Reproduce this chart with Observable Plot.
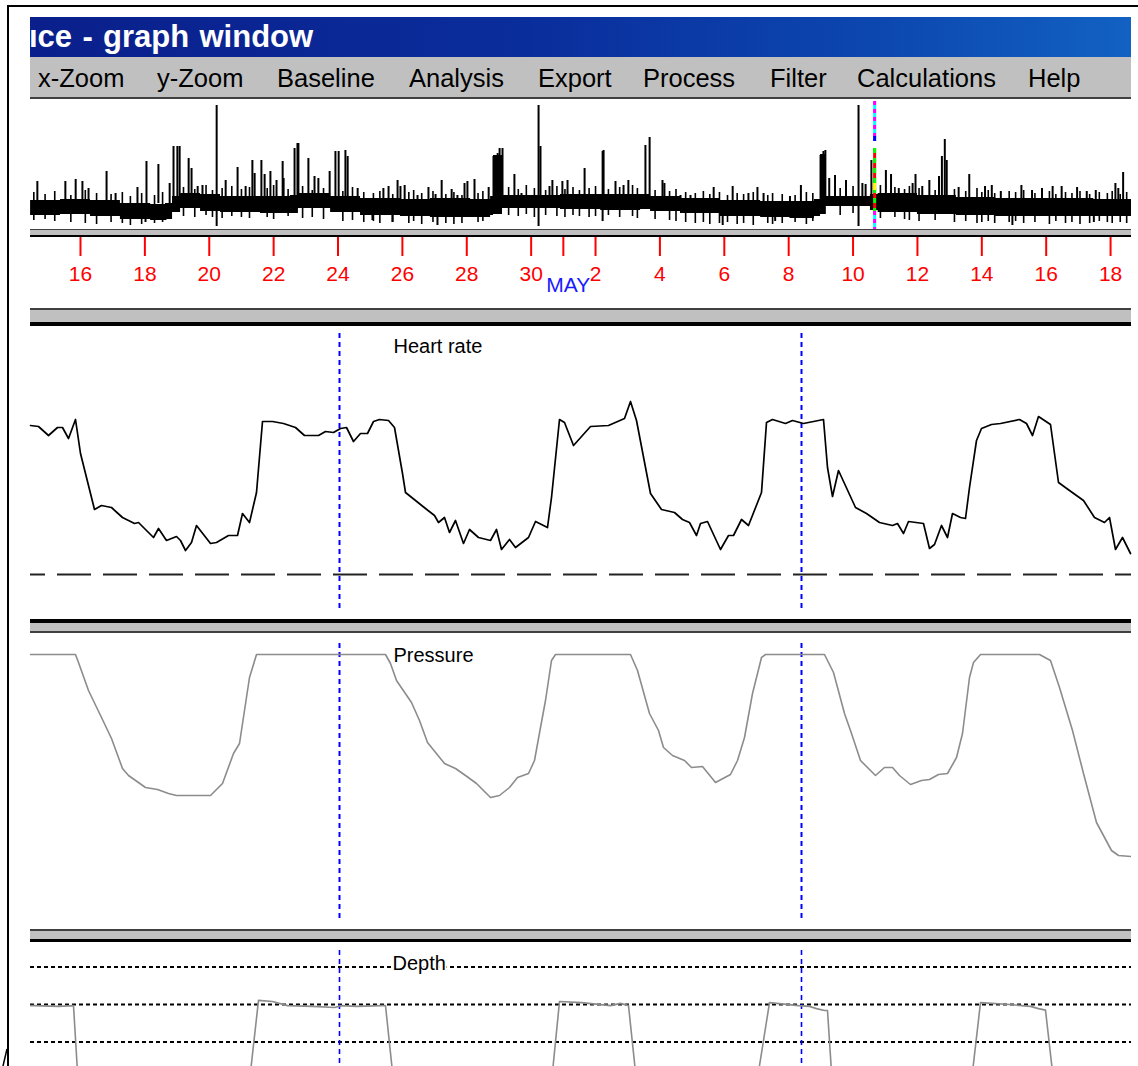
<!DOCTYPE html>
<html>
<head>
<meta charset="utf-8">
<script src="https://cdn.jsdelivr.net/npm/d3@7"></script>
<script src="https://cdn.jsdelivr.net/npm/@observablehq/plot@0.6"></script>
<style>
  html, body { margin:0; padding:0; background:#fff; }
  #page { position:relative; width:1138px; height:1066px; overflow:hidden; background:#fff; font-family:"Liberation Sans", Arial, sans-serif; }
  .a { position:absolute; }
  #titlebar { left:30px; top:17px; width:1101px; height:40px; overflow:hidden;
    background:linear-gradient(90deg,#0a1f8b 0%,#0a2d9c 45%,#0c48b0 78%,#1261c3 100%); }
  #titletext { position:absolute; left:-1px; top:0; height:40px; line-height:40px; font-size:31px; font-weight:bold; color:#fff; white-space:nowrap; word-spacing:1.7px; }
  #menubar { left:30px; top:57px; width:1101px; height:40px; background:#c0c0c0; }
  .mi { position:absolute; top:1px; line-height:40px; font-size:25.5px; color:#000; white-space:nowrap; }
</style>
</head>
<body>
<div id="page">
  <div id="plots"></div>
  <div class="a" style="left:7px;top:5px;width:1131px;height:2px;background:#000"></div>
  <div class="a" style="left:7px;top:5px;width:2px;height:1061px;background:#000"></div>
  <svg class="a" style="left:0;top:1046px" width="12" height="20"><line x1="3" y1="20" x2="7" y2="3" stroke="#000" stroke-width="1.5"/></svg>
  <div id="titlebar" class="a"><div id="titletext">ıce - graph window</div></div>
  <div id="menubar" class="a"></div>
  <div id="seps"></div>
</div>
<script>
// ---------- window chrome text ----------
const menuItems = ["x-Zoom","y-Zoom","Baseline","Analysis","Export","Process","Filter","Calculations","Help"];
const menuX = [8,127,247,379,508,613,740,827,998];

// ---------- overview (activity trace, x = day of April; May 1 = 31) ----------
const tickDays   = [16,18,20,22,24,26,28,30,31,32,34,36,38,40,42,44,46,48];
const tickLabels = ["16","18","20","22","24","26","28","30","","2","4","6","8","10","12","14","16","18"];
const monthDay  = [31];
const monthName = ["MAY"];

const bandDay = [14.45,15.38,16.31,17.24,18.18,18.64,18.86,19.11,19.73,20.35,21.59,22.52,22.77,23.77,24.70,25.94,26.87,28.12,28.74,28.83,29.11,29.98,30.91,32.16,33.40,33.71,34.64,35.88,37.13,38.04,38.80,38.99,39.17,40.17,40.54,40.78,42.00,43.21,44.43,45.96,47.48,48.65];
const bandTop = [29,30,29,26,25,26,33,36,35,33,33,34,36,33,31,30,31,30,33,74,34,34,35,35,35,33,31,29,28,28,30,75,33,33,35,36,34,32,31,31,30,30];
const bandBot = [14,15,13,10,9,10,17,21,18,17,16,16,21,17,14,13,12,12,14,15,21,21,20,19,20,18,16,13,12,11,13,15,23,23,19,17,15,14,13,13,13,13];

const spikeDay = [14.66,15.53,15.85,16.06,16.25,16.81,17.09,17.77,18.05,18.42,18.77,18.89,19.01,19.08,19.36,19.45,19.64,19.79,20.23,20.51,20.88,21.13,21.34,21.41,21.62,21.72,21.90,22.09,22.28,22.31,22.65,22.74,22.77,23.08,23.27,23.39,23.74,23.92,24.02,24.23,24.30,24.61,25.41,25.57,25.85,25.94,
  26.07,26.47,26.81,27.03,27.22,27.53,27.71,27.93,28.02,28.24,28.68,28.83,28.96,29.02,29.11,29.48,29.70,30.23,30.29,30.57,30.66,30.97,31.13,31.66,32.22,32.25,32.62,32.87,33.02,33.55,33.68,34.08,34.14,34.64,34.95,35.67,36.26,36.75,37.03,37.22,
  38.04,38.38,38.99,39.08,39.14,39.26,39.44,39.78,40.17,40.29,40.39,40.57,41.02,41.18,41.42,41.85,41.94,42.15,42.37,42.67,42.76,42.85,42.91,43.28,43.61,44.10,44.31,44.59,45.23,45.56,45.87,46.20,46.48,46.96,47.26,47.54,48.15,48.24,48.39];
const spikeTop = [48,48,50,48,41,58,36,42,68,65,46,83,83,83,71,61,43,44,124,49,62,43,69,56,69,55,58,49,68,51,81,86,86,71,53,51,58,78,78,79,73,41,41,43,49,43,
  44,34,42,35,49,40,34,46,48,50,42,73,76,81,81,55,36,124,83,43,49,48,49,61,78,79,48,44,49,84,92,49,46,34,34,42,43,36,42,36,
  33,44,74,78,79,51,54,49,124,46,45,69,59,55,41,46,55,43,49,53,73,90,69,42,55,43,44,38,44,39,41,43,43,42,38,39,46,41,57];
const dipDay    = [18.02,18.64,20.23,25.07,25.69,27.09,30.23,32.22,35.95,37.58,40.17,44.95,47.48];
const dipBottom = [7,9,3,9,7,4,3,8,4,8,3,4,7];

// short up/down excursions that make the band ragged
const grassDay = [14.55,14.90,15.20,15.70,16.15,16.50,16.95,17.30,17.55,17.90,
  18.30,18.55,19.20,19.55,19.90,20.10,20.40,20.70,21.00,21.25,
  21.80,22.00,22.45,22.90,23.20,23.55,24.15,24.45,24.80,25.10,
  25.30,25.70,26.20,26.35,26.60,26.95,27.35,27.60,27.85,28.35,
  28.50,29.30,29.60,29.85,30.10,30.45,30.80,31.05,31.30,31.50,
  31.80,32.00,32.40,32.75,33.15,33.30,33.85,34.30,34.50,34.80,
  35.10,35.35,35.55,35.85,36.10,36.40,36.60,36.90,37.35,37.50,
  37.80,38.20,38.55,38.75,39.60,40.00,40.85,41.30,41.60,41.75,
  42.05,42.55,43.15,43.50,43.85,44.00,44.20,44.40,44.85,45.05,
  45.30,45.65,46.10,46.30,46.60,46.80,47.05,47.35,47.65,47.90,
  48.05,48.30,48.50];
const grassTop = [37,35,38,34,39,36,35,37,33,36, 34,37,42,40,44,39,41,43,40,42, 41,44,40,43,39,41,38,42,37,36,
  38,35,37,39,36,38,35,37,34,36, 38,42,40,44,41,39,43,40,42,39, 41,43,40,42,44,41,39,38,40,37,
  36,38,35,37,34,36,35,37,34,36, 35,34,37,36,41,43,44,42,40,43, 41,39,40,38,41,37,39,36,38,37,
  39,36,38,35,37,36,38,35,37,36, 38,35,37];
const grassBot = [9,10,8,7,6,5,7,6,4,5, 6,7,13,12,14,12,11,13,12,11, 12,10,13,11,12,10,8,9,7,8,
  6,7,6,8,5,7,6,5,6,7, 8,14,13,15,12,14,13,12,14,13, 12,13,14,12,13,11,10,9,8,7,
  6,7,5,6,7,5,6,4,6,5, 6,7,5,8,14,16,11,12,10,9, 8,9,7,8,6,7,8,6,7,8,
  6,7,5,8,6,7,5,6,8,7, 6,7,6];
const cursorDay = [40.67];

// ---------- dive panels (x = minutes from start of window) ----------
const cursorTimes = [309, 771];
const panelNames = ["Heart rate", "Pressure", "Depth"];
const labelTimes = [363, 363, 362];

const hrTime = [0,8,18,27,32,38,45,50,64,71,81,92,104,108,123,128,136,146,150,155,161,166,180,186,198,207,212,219,226,232,242,253,265,274,288,295,303,310,316,323,330,337,343,349,358,364,372,375,395,404,408,414,419,425,433,439,448,460,466,471,479,485,498,505,517,521,529,534,543,
  560,578,594,600,606,620,631,644,652,659,666,670,677,690,698,703,711,718,731,736,742,755,762,773,793,797,802,808,825,836,849,862,867,873,878,893,899,904,911,917,922,930,935,939,946,951,961,970,989,996,1002,1008,1020,1028,1039,1053,1064,1074,1079,1085,1092,1100];
const hrBpm = [94.5,94,89.5,93.5,93.5,88,97.5,80.5,52.5,54.5,53.5,48.5,45.5,46,38.5,43,37,39,37,32,36,44.5,35.5,36,39.5,39.5,50.5,46,61,96.5,96.5,95.5,93.5,89.5,89.5,91.5,91,93,93.5,86.5,90.5,90.5,96.5,97.5,97,93.5,70.5,61,53,49.5,46,48.5,41,47,35.5,42.5,38.5,37,42.5,32.5,37.5,33.5,38.5,46.5,43.5,58.5,97.5,96,84.5,
  94,94.5,98,106.5,97,60.5,52.5,51,47.5,46,39.5,45.5,46.5,32.5,39.5,39.5,47.5,44.5,61,96,97.5,95.5,97,95.5,97.5,73.5,59,72,53.5,50.5,46,44.5,45.5,40.5,46.5,45.5,33,35,44.5,38.5,50.5,48.5,48,63.5,87,93,95,95.5,97.5,95.5,89.5,99,95,66,62,57,48.5,46,48.5,32.5,38.5,30.5];
const hrBaseline = [20];

const presTime = [0,45,48,58,71,81,92,98,115,127,138,146,180,192,203,209,219,226,355,360,366,381,389,397,414,425,435,446,460,469,479,487,498,504,510,515,521,525,
  600,607,619,628,633,642,654,661,672,685,700,707,714,722,731,735,794,803,814,821,830,845,854,862,869,880,891,899,908,917,926,932,939,943,950,1009,1020,1029,1042,1053,1066,1081,1088,1101];
const presValue = [0,0,4,18,31.5,42,57,60.5,66.5,67.5,69.5,70.5,70.5,64.5,49.5,44.5,11.5,0,0,4.5,13,24,33,44,54.5,57,60.5,64.5,71.5,70.5,66.5,61.5,59.5,53,36.5,23,3,0,
  0,8,29.5,38,46.5,50.5,53,56.5,56,64,60,53,41.5,19.5,1.5,0,0,9,29.5,39.5,53,60.5,56.5,56.5,60.5,65,63,62.5,60,59.5,51.5,39.5,11.5,4,0,0,3,16.5,38,59.5,84,98,100.5,101];

const depthTime  = [0,3,28,43,47,220,228,242,257,282,304,311,326,351,355,362,522,529,551,580,590,598,605,728,739,768,779,786,794,797,801,942,950,979,1000,1008,1015,1022,1101];
const depthValue = [0.3,0.3,0.5,0.3,18,18,-1.1,-0.8,0.3,0.5,0.8,0.3,0.5,0.3,0.3,18,18,-0.8,-0.5,0.3,-0.3,0.3,18,18,-0.5,0.3,0.5,1.1,1.6,1.6,18,18,-0.5,0,0.5,1.1,1.5,18,18];
const depthGrid = [-10, 0, 10];

// ---------- build ----------
const W = 1101;
const FONT = "'Liberation Sans', Arial, sans-serif";
const baseStyle = {background: "transparent", fontFamily: FONT, fontSize: "20px", overflow: "visible"};

const menubar = document.getElementById("menubar");
menuItems.forEach((m, i) => {
  const s = document.createElement("span");
  s.className = "mi"; s.style.left = menuX[i] + "px"; s.textContent = m;
  menubar.appendChild(s);
});

const plots = document.getElementById("plots");
function place(el, top) {
  const d = document.createElement("div");
  d.className = "a"; d.style.left = "30px"; d.style.top = top + "px";
  d.appendChild(el); plots.appendChild(d);
}

const band = bandDay.map((d, i) => ({day: d, top: bandTop[i], bot: bandBot[i]}));
const spikes = spikeDay.map((d, i) => ({day: d, v: spikeTop[i]}));
const dips = dipDay.map((d, i) => ({day: d, v: dipBottom[i]}));
const grass = grassDay.map((d, i) => ({day: d, top: grassTop[i], bot: grassBot[i]}));
const months = monthDay.map((d, i) => ({day: d, name: monthName[i]}));

const overview = Plot.plot({
  width: W, height: 201, marginTop: 0, marginBottom: 71, marginLeft: 0, marginRight: 0,
  style: baseStyle,
  x: {domain: [14.447, 48.65]},
  y: {domain: [0, 130], axis: null},
  marks: [
    Plot.areaY(band, {x: "day", y1: "bot", y2: "top", curve: "step-after", fill: "#000"}),
    Plot.ruleX(grass, {x: "day", y1: "bot", y2: "top", stroke: "#000", strokeWidth: 1.6}),
    Plot.ruleX(spikes, {x: "day", y1: 26, y2: "v", stroke: "#000", strokeWidth: 2}),
    Plot.ruleX(dips, {x: "day", y1: 24, y2: "v", stroke: "#000", strokeWidth: 2}),
    Plot.ruleX(cursorDay, {stroke: "#00ffff", strokeWidth: 3, insetTop: 2, insetBottom: 88}),
    Plot.ruleX(cursorDay, {stroke: "#ff00ff", strokeWidth: 3, strokeDasharray: "4,4", insetTop: 2, insetBottom: 88}),
    Plot.ruleX(cursorDay, {stroke: "#0000ff", strokeWidth: 3, insetTop: 37, insetBottom: 88}),
    Plot.ruleX(cursorDay, {stroke: "#ff0000", strokeWidth: 3, insetTop: 49, insetBottom: 18}),
    Plot.ruleX(cursorDay, {stroke: "#00ff00", strokeWidth: 3, strokeDasharray: "5,5", insetTop: 49, insetBottom: 18}),
    Plot.ruleX(cursorDay, {stroke: "#ffff00", strokeWidth: 3, insetTop: 84, insetBottom: 39}),
    Plot.ruleX(cursorDay, {stroke: "#00ffff", strokeWidth: 3, insetTop: 112, insetBottom: 0}),
    Plot.ruleX(cursorDay, {stroke: "#ff00ff", strokeWidth: 3, strokeDasharray: "4,4", insetTop: 112, insetBottom: 0}),
    Plot.axisX({ticks: tickDays, tickFormat: d => tickLabels[tickDays.indexOf(d)], tickSize: 19, tickPadding: 10, dy: 8,
      color: "#ff0000", strokeWidth: 2, fontSize: 21, label: null}),
    Plot.text(months, {x: "day", text: "name", frameAnchor: "bottom", lineAnchor: "bottom", dy: 62, dx: 5, fill: "#1a1aff", fontSize: 21})
  ]
});
place(overview, 99);

const hrRows = hrTime.map((t, i) => ({t, v: hrBpm[i]}));
const hr = Plot.plot({
  width: W, height: 293, margin: 0, style: baseStyle,
  x: {domain: [0, 1101], axis: null},
  y: {domain: [-2.5, 144], axis: null},
  marks: [
    Plot.ruleY(hrBaseline, {stroke: "#222", strokeWidth: 2, strokeDasharray: "34,12", strokeDashoffset: 19}),
    Plot.ruleX(cursorTimes, {stroke: "#0000ff", strokeWidth: 2, strokeDasharray: "5,4", insetTop: 7, insetBottom: 7}),
    Plot.line(hrRows, {x: "t", y: "v", stroke: "#000", strokeWidth: 1.7}),
    Plot.text([panelNames[0]], {x: labelTimes[0], frameAnchor: "top", lineAnchor: "middle", dy: 20, textAnchor: "start", fontSize: 20, fill: "#000"})
  ]
});
place(hr, 326);

const presRows = presTime.map((t, i) => ({t, v: presValue[i]}));
const pres = Plot.plot({
  width: W, height: 296, margin: 0, style: baseStyle,
  x: {domain: [0, 1101], axis: null},
  y: {domain: [-10.5, 137.5], range: [0, 296], axis: null},
  marks: [
    Plot.ruleX(cursorTimes, {stroke: "#0000ff", strokeWidth: 2, strokeDasharray: "5,4", insetTop: 10, insetBottom: 9}),
    Plot.line(presRows, {x: "t", y: "v", stroke: "#8c8c8c", strokeWidth: 1.6, clip: true}),
    Plot.text([panelNames[1]], {x: labelTimes[1], frameAnchor: "top", lineAnchor: "middle", dy: 22, textAnchor: "start", fontSize: 20, fill: "#000"})
  ]
});
place(pres, 633);

const depthRows = depthTime.map((t, i) => ({t, v: depthValue[i]}));
const depth = Plot.plot({
  width: W, height: 124, margin: 0, style: baseStyle,
  x: {domain: [0, 1101], axis: null},
  y: {domain: [-16.533, 16.533], range: [0, 124], axis: null},
  marks: [
    Plot.ruleY(depthGrid, {stroke: "#000", strokeWidth: 2, strokeDasharray: "4,3"}),
    Plot.ruleX(cursorTimes, {stroke: "#0000ff", strokeWidth: 1.6, strokeDasharray: "5,4", insetTop: 8, insetBottom: 0}),
    Plot.line(depthRows, {x: "t", y: "v", stroke: "#8c8c8c", strokeWidth: 1.6, clip: true}),
    Plot.text([panelNames[2]], {x: labelTimes[2], frameAnchor: "top", lineAnchor: "middle", dy: 21, textAnchor: "start", fontSize: 20, fill: "#000", stroke: "#fff", strokeWidth: 4})
  ]
});
place(depth, 942);

// ---------- panel separators (window chrome) ----------
const seps = document.getElementById("seps");
const bars = [
  [97, 2, "#404040"],
  [229, 8, "#c0c0c0"], [229, 1, "#404040"], [235, 2, "#000"],
  [308, 18, "#c0c0c0"], [308, 2, "#404040"], [322, 4, "#000"],
  [619, 14, "#c0c0c0"], [619, 4, "#000"], [631, 2, "#404040"],
  [929, 13, "#c0c0c0"], [929, 2, "#404040"], [939, 3, "#000"]
];
bars.forEach(([top, h, c]) => {
  const d = document.createElement("div");
  d.className = "a";
  d.style.cssText = `left:30px;top:${top}px;width:1101px;height:${h}px;background:${c}`;
  seps.appendChild(d);
});
</script>
</body>
</html>
